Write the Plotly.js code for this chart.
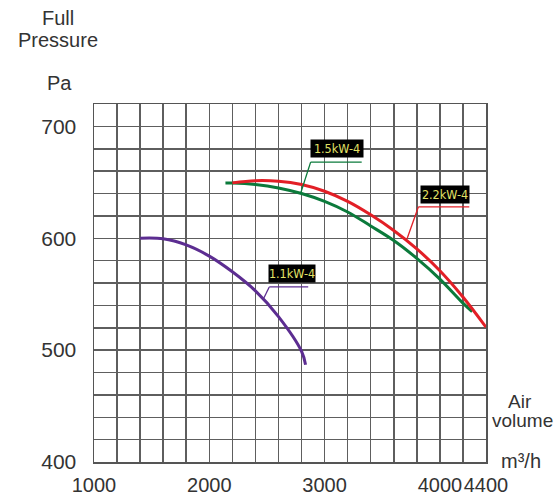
<!DOCTYPE html>
<html>
<head>
<meta charset="utf-8">
<script src="https://cdn.plot.ly/plotly-3.0.1.min.js"></script>
<style>html,body{margin:0;padding:0;background:#fff;}#chart{width:557px;height:504px;}</style>
</head>
<body>
<div id="chart"></div>
<script>
// Air volume (m³/h) and full pressure (Pa)
const x11 = [1400, 1600, 1800, 2000, 2200, 2400, 2600, 2800, 2835];
const y11 = [600, 599.5, 594, 584, 570, 553, 530, 499, 487];

const x15 = [2140, 2200, 2400, 2600, 2800, 3000, 3200, 3400, 3600, 3800, 4000, 4200, 4280];
const y15 = [649.3, 649.3, 648, 645, 640, 633, 623.5, 611, 598, 582, 563.5, 542, 534.5];

const x22 = [2200, 2400, 2600, 2800, 3000, 3200, 3400, 3600, 3800, 4000, 4200, 4400];
const y22 = [649.5, 651.5, 651, 648, 642, 633, 621, 607, 590.5, 571, 547.5, 520.5];

const seriesNames = ["1.1kW-4", "1.5kW-4", "2.2kW-4"];
const seriesColors = ["#5c2d91", "#0b7a3b", "#e21f26"];

const xTickVals = [1000, 2000, 3000, 4000, 4400];
const xTickText = ["1000", "2000", "3000", "4000", "4400"];
const yTickVals = [400, 500, 600, 700];
const yTickText = ["400", "500", "600", "700"];

// label leader lines: curve point, corner, end of underline, box centre
const leaders = [
  {name: "1.1kW-4", pt: [2468, 545.5], corner: [2520, 556.5], endX: 2858, box: [2716, 568.5], w: 46, color: seriesColors[0]},
  {name: "1.5kW-4", pt: [2793, 640.5], corner: [2879, 668], endX: 3322, box: [3110, 680], w: 52, color: seriesColors[1]},
  {name: "2.2kW-4", pt: [3717, 600], corner: [3813, 628], endX: 4255, box: [4041, 639.3], w: 48, color: seriesColors[2]}
];

const traces = [
  {x: x11, y: y11, name: seriesNames[0], mode: "lines", line: {color: seriesColors[0], width: 3, shape: "spline"}},
  {x: x15, y: y15, name: seriesNames[1], mode: "lines", line: {color: seriesColors[1], width: 3, shape: "spline"}},
  {x: x22, y: y22, name: seriesNames[2], mode: "lines", line: {color: seriesColors[2], width: 3, shape: "spline"}}
];

const shapes = [];
const annotations = [];
leaders.forEach(l => {
  shapes.push({type: "line", xref: "x", yref: "y", x0: l.pt[0], y0: l.pt[1], x1: l.corner[0], y1: l.corner[1], line: {color: l.color, width: 1.3}});
  shapes.push({type: "line", xref: "x", yref: "y", x0: l.corner[0], y0: l.corner[1], x1: l.endX, y1: l.corner[1], line: {color: l.color, width: 1.3}});
  annotations.push({x: l.box[0], y: l.box[1], xref: "x", yref: "y", text: l.name, showarrow: false,
    bgcolor: "#000", width: l.w, height: 17, borderpad: 0,
    font: {family: "DejaVu Sans Condensed, Liberation Sans Narrow, sans-serif", size: 12.5, color: "#e2e266"}});
});

const txtFont = {family: "Liberation Sans, Arial, sans-serif", size: 20, color: "#333"};
const titleTexts = [
  {text: "Full", x: -0.092, y: 1.240},
  {text: "Pressure", x: -0.092, y: 1.179},
  {text: "Pa", x: -0.087, y: 1.059},
  {text: "Air", x: 1.087, y: 0.168, size: 19},
  {text: "volume", x: 1.092, y: 0.115, size: 19},
  {text: "m³/h", x: 1.089, y: 0.003, size: 20}
];
titleTexts.forEach(t => {
  annotations.push({text: t.text, x: t.x, y: t.y, xref: "paper", yref: "paper", showarrow: false,
    xanchor: "center", yanchor: "middle", font: Object.assign({}, txtFont, t.size ? {size: t.size} : {})});
});

const gridCol = "#5e5e5e";
const layout = {
  width: 557, height: 504,
  margin: {l: 94, r: 71, t: 104, b: 42},
  paper_bgcolor: "#fff", plot_bgcolor: "#fff",
  showlegend: false,
  xaxis: {
    range: [1000, 4400], tickvals: xTickVals, ticktext: xTickText, tickangle: 0, automargin: false,
    showgrid: true, gridcolor: gridCol, gridwidth: 1.5,
    minor: {tick0: 1000, dtick: 200, showgrid: true, gridcolor: gridCol, gridwidth: 1.5},
    showline: true, linecolor: "#555", linewidth: 1.5, mirror: true,
    zeroline: false, ticks: "", ticklabelstandoff: 4,
    tickfont: {family: "Liberation Sans, Arial, sans-serif", size: 20, color: "#333"}
  },
  yaxis: {
    range: [400, 720], tickvals: yTickVals, ticktext: yTickText, automargin: false,
    showgrid: true, gridcolor: gridCol, gridwidth: 1.5,
    minor: {tick0: 400, dtick: 20, showgrid: true, gridcolor: gridCol, gridwidth: 1.5},
    showline: true, linecolor: "#555", linewidth: 1.5, mirror: true,
    zeroline: false, ticks: "", ticklabelstandoff: 12,
    tickfont: {family: "Liberation Sans, Arial, sans-serif", size: 21, color: "#333"}
  },
  shapes: shapes,
  annotations: annotations
};

Plotly.newPlot("chart", traces, layout, {staticPlot: true, displayModeBar: false});
</script>
</body>
</html>
